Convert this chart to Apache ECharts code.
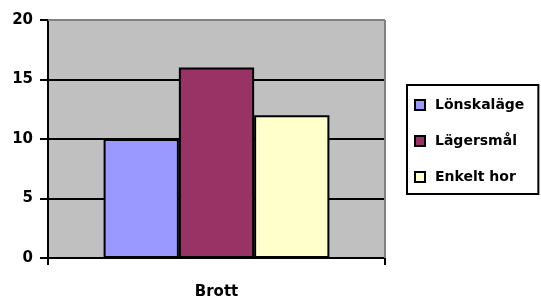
<!DOCTYPE html>
<html><head><meta charset="utf-8">
<script src="https://cdn.jsdelivr.net/npm/echarts@6/dist/echarts.min.js"></script>
<style>html,body{margin:0;padding:0;background:#fff}#c{width:541px;height:300px}</style>
</head><body><div id="c"></div>
<script>
const categories = ["Brott"];
const seriesNames = ["Lönskaläge", "Lägersmål", "Enkelt hor"];
const lonskalage = [10];
const lagersmal = [16];
const enkeltHor = [12];
const colors = ["#9999FF", "#993366", "#FFFFCC"];
const values = [lonskalage, lagersmal, enkeltHor];

const chart = echarts.init(document.getElementById('c'));
const font = 'DejaVu Sans';
chart.setOption({
  animation: false,
  textStyle: {fontFamily: font},
  grid: {left: 48, top: 20, width: 337, height: 238, backgroundColor: '#C0C0C0', show: true, borderWidth: 0},
  legend: {
    orient: 'vertical', left: 407, top: 85,
    padding: [13, 14, 10, 7],
    itemGap: 22, itemWidth: 10, itemHeight: 10,
    borderColor: '#000', borderWidth: 2,
    icon: 'rect',
    textStyle: {fontFamily: font, fontWeight: 700, fontSize: 14, color: '#000', padding: [0,0,0,5]},
    data: seriesNames
  },
  xAxis: {
    type: 'category', data: categories,
    axisLine: {lineStyle: {color: '#000', width: 2}},
    axisTick: {show: true, alignWithLabel: false, length: 7, lineStyle: {color: '#000', width: 2}},
    axisLabel: {fontWeight: 700, fontSize: 15, color: '#000', margin: 27, fontFamily: font}
  },
  yAxis: [{
    type: 'value', min: 0, max: 20, interval: 5,
    axisLine: {show: true, lineStyle: {color: '#000', width: 2}},
    axisTick: {show: true, length: 8, lineStyle: {color: '#000', width: 2}},
    splitLine: {lineStyle: {color: '#000', width: 2}},
    axisLabel: {fontWeight: 700, fontSize: 15, color: '#000', margin: 15, fontFamily: font}
  }],
  series: seriesNames.map((n, i) => ({
    name: n, type: 'bar', data: values[i],
    barGap: '0%', barCategoryGap: '33%',
    itemStyle: {color: colors[i], borderColor: '#000', borderWidth: 2}
  })),
  graphic: [
    {type: 'line', shape: {x1: 48, y1: 20, x2: 385, y2: 20}, style: {stroke: '#808080', lineWidth: 2}, z: 1},
    {type: 'line', shape: {x1: 385, y1: 20, x2: 385, y2: 258}, style: {stroke: '#808080', lineWidth: 2}, z: 1}
  ]
});
</script></body></html>
